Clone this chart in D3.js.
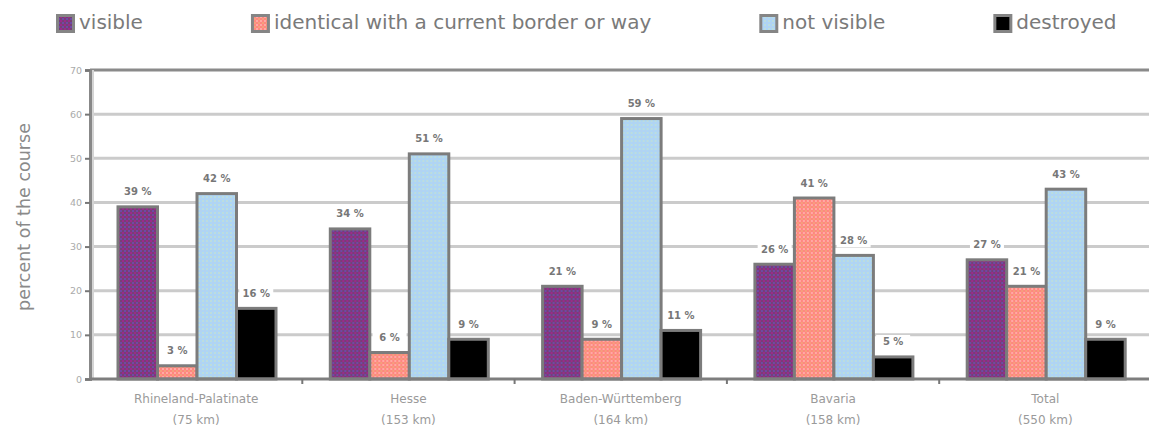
<!DOCTYPE html>
<html>
<head>
<meta charset="utf-8">
<script src="https://cdn.jsdelivr.net/npm/d3@7"></script>
<style>
  body { margin: 0; background: #fff; }
  svg { display: block; font-family: "DejaVu Sans", Verdana, sans-serif; }
</style>
</head>
<body>
<div id="chart"></div>
<script>
// data
const regions = ["Rhineland-Palatinate", "Hesse", "Baden-Württemberg", "Bavaria", "Total"];
const regionLengths = ["(75 km)", "(153 km)", "(164 km)", "(158 km)", "(550 km)"];
const seriesNames = ["visible", "identical with a current border or way", "not visible", "destroyed"];
const visible = [39, 34, 21, 26, 27];
const identical = [3, 6, 9, 41, 21];
const notVisible = [42, 51, 59, 28, 43];
const destroyed = [16, 9, 11, 5, 9];
const yTicks = [0, 10, 20, 30, 40, 50, 60, 70];

const width = 1149, height = 428;
const margin = { top: 70, bottom: 49, left: 90 };
const step = 212.3;

const seriesValues = [visible, identical, notVisible, destroyed];
const fills = ["url(#pVisible)", "url(#pIdentical)", "url(#pNotVisible)", "#000"];

const svg = d3.select("#chart")
  .append("svg")
  .attr("width", width)
  .attr("height", height);

// fill patterns
const defs = svg.append("defs");
function makePattern(id, base, a, b) {
  const p = defs.append("pattern")
    .attr("id", id)
    .attr("width", 4)
    .attr("height", 4)
    .attr("patternUnits", "userSpaceOnUse");
  p.append("rect").attr("width", 4).attr("height", 4).attr("fill", base);
  p.append("rect").attr("width", 2).attr("height", 2).attr("fill", a);
  p.append("rect").attr("x", 2).attr("y", 2).attr("width", 2).attr("height", 2).attr("fill", b);
}
makePattern("pVisible", "#773f76", "#9a2a8c", "#7048a6");
makePattern("pIdentical", "#ff8680", "#ffaaa4", "#f4a07c");
makePattern("pNotVisible", "#acd6f6", "#bddcde", "#b4d2f0");

const x0 = d3.scaleBand()
  .domain(regions)
  .range([margin.left, margin.left + regions.length * step]);

const x1 = d3.scaleBand()
  .domain(seriesNames)
  .range([28, 186]);

const y = d3.scaleLinear()
  .domain([0, 70])
  .range([height - margin.bottom, margin.top]);

const plotRight = margin.left + regions.length * step;

// gridlines
svg.append("g")
  .selectAll("line")
  .data(yTicks.filter(t => t > 0 && t < 70))
  .join("line")
  .attr("x1", margin.left)
  .attr("x2", plotRight)
  .attr("y1", d => y(d))
  .attr("y2", d => y(d))
  .attr("stroke", "#cbcbcb")
  .attr("stroke-width", 3);

// top line
svg.append("line")
  .attr("x1", margin.left).attr("x2", plotRight)
  .attr("y1", y(70)).attr("y2", y(70))
  .attr("stroke", "#8a8a8a").attr("stroke-width", 3);

// y axis
const yAxis = svg.append("g")
  .attr("transform", `translate(${margin.left},0)`)
  .call(d3.axisLeft(y).tickValues(yTicks).tickSize(5).tickPadding(3));
yAxis.select(".domain").attr("stroke", "#888").attr("stroke-width", 3);
yAxis.selectAll(".tick line").attr("stroke", "#777").attr("stroke-width", 2);
yAxis.selectAll(".tick text")
  .attr("fill", "#aaa")
  .style("font-size", "9.5px")
  .style("font-family", "DejaVu Sans, sans-serif");
svg.append("line")
  .attr("x1", margin.left + 3).attr("x2", margin.left + 3)
  .attr("y1", y(70)).attr("y2", y(0))
  .attr("stroke", "#d4d4d4").attr("stroke-width", 2);

// bars
const groups = svg.append("g")
  .selectAll("g")
  .data(regions)
  .join("g")
  .attr("transform", d => `translate(${x0(d)},0)`);

groups.selectAll("rect")
  .data((r, i) => seriesNames.map((s, j) => ({ series: s, j: j, value: seriesValues[j][i] })))
  .join("rect")
  .attr("x", d => x1(d.series))
  .attr("y", d => y(d.value))
  .attr("width", x1.bandwidth())
  .attr("height", d => y(0) - y(d.value))
  .attr("fill", d => fills[d.j])
  .attr("stroke", "#7c7c7c")
  .attr("stroke-width", 3);

// value labels
const labels = groups.selectAll("g.lbl")
  .data((r, i) => seriesNames.map((s, j) => ({ series: s, value: seriesValues[j][i] })))
  .join("g")
  .attr("class", "lbl")
  .attr("transform", d => `translate(${x1(d.series) + x1.bandwidth() / 2},${y(d.value) - 15})`);

labels.append("rect")
  .attr("x", -17).attr("y", -7)
  .attr("width", 34).attr("height", 14)
  .attr("fill", "#fff");

labels.append("text")
  .attr("text-anchor", "middle")
  .attr("dy", "0.35em")
  .attr("fill", "#777")
  .style("font-size", "10px")
  .style("font-weight", "bold")
  .text(d => d.value + " %");

// x axis
svg.append("line")
  .attr("x1", margin.left).attr("x2", plotRight)
  .attr("y1", y(0)).attr("y2", y(0))
  .attr("stroke", "#7e7e7e").attr("stroke-width", 3);

svg.append("g")
  .selectAll("line")
  .data(regions.slice(1))
  .join("line")
  .attr("x1", d => x0(d)).attr("x2", d => x0(d))
  .attr("y1", y(0)).attr("y2", y(0) + 5)
  .attr("stroke", "#777").attr("stroke-width", 2);

const catLabels = svg.append("g")
  .selectAll("text")
  .data(regions)
  .join("text")
  .attr("text-anchor", "middle")
  .attr("fill", "#9a9a9a")
  .style("font-size", "12px");
catLabels.append("tspan")
  .attr("x", d => x0(d) + x0.bandwidth() / 2)
  .attr("y", 403)
  .text(d => d);
catLabels.append("tspan")
  .attr("x", d => x0(d) + x0.bandwidth() / 2)
  .attr("y", 424)
  .text((d, i) => regionLengths[i]);

// y title
svg.append("text")
  .attr("transform", "translate(30,217) rotate(-90)")
  .attr("text-anchor", "middle")
  .attr("fill", "#8a8a8a")
  .style("font-size", "17.5px")
  .text("percent of the course");

// legend
const legend = svg.append("g");
let lx = 56;
seriesNames.forEach((name, j) => {
  legend.append("rect")
    .attr("x", lx + 1.5).attr("y", 15.5)
    .attr("width", 16).attr("height", 16)
    .attr("fill", fills[j])
    .attr("stroke", "#858585")
    .attr("stroke-width", 3);
  const t = legend.append("text")
    .attr("x", lx + 23)
    .attr("y", 29)
    .attr("fill", "#7a7a7a")
    .style("font-size", "20px")
    .text(name);
  lx = lx + 23 + t.node().getComputedTextLength() + 108;
});
</script>
</body>
</html>
